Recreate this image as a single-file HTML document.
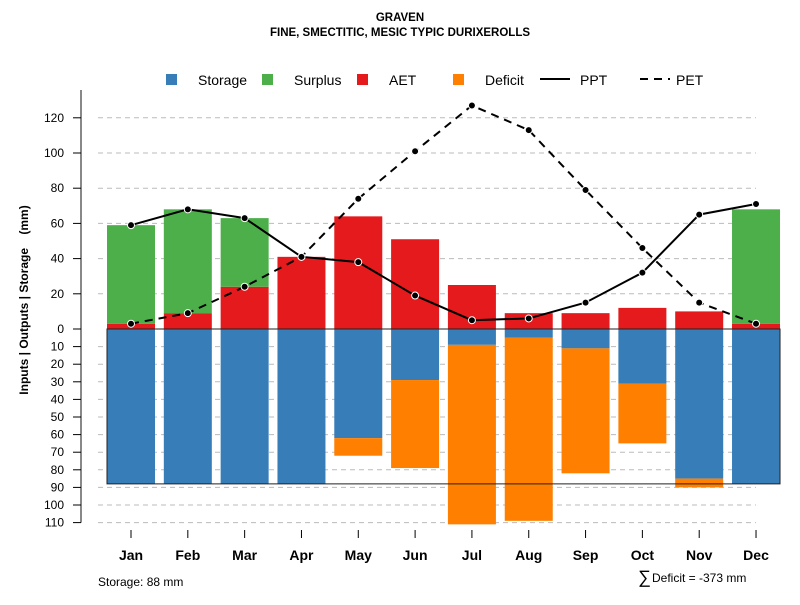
<!DOCTYPE html>
<html><head><meta charset="utf-8"><style>
body{margin:0;background:#fff;font-family:"Liberation Sans",sans-serif}
svg text{font-family:"Liberation Sans",sans-serif}
</style></head><body>
<svg id="c" width="800" height="600" xmlns="http://www.w3.org/2000/svg"></svg>
<script>
const months=["Jan","Feb","Mar","Apr","May","Jun","Jul","Aug","Sep","Oct","Nov","Dec"];
const aet=[3,9,24,41,64,51,25,9,9,12,10,3];
const surplus=[56,59,39,0,0,0,0,0,0,0,0,65];
const ppt=[59,68,63,41,38,19,5,6,15,32,65,71];
const pet=[3,9,24,41,74,101,127,113,79,46,15,3];
const storage=[88,88,88,88,62,29,9,5,11,31,85,88];
const deficit=[0,0,0,0,10,50,102,104,71,34,5,0];
const posTicks=[0,20,40,60,80,100,120];
const negTicks=[10,20,30,40,50,60,70,80,90,100,110];
const storageMax=88;
const svg=document.getElementById('c');const NS='http://www.w3.org/2000/svg';
function el(t,a,p){const e=document.createElementNS(NS,t);for(const k in a)e.setAttribute(k,a[k]);(p||svg).appendChild(e);return e;}
const y0=329,k=1.76;
const yP=v=>y0-v*k, yN=v=>y0+v*k;
const xC=i=>131+i*56.82, bw=48;
let t=el('text',{x:400,y:21,'text-anchor':'middle','font-size':11.5,'font-weight':'bold'});t.textContent='GRAVEN';

t=el('text',{x:400,y:36,'text-anchor':'middle','font-size':11.5,'font-weight':'bold'});t.textContent='FINE, SMECTITIC, MESIC TYPIC DURIXEROLLS';

const grid=el('g',{});
posTicks.forEach(v=>{if(v>0)el('line',{x1:98,x2:756,y1:yP(v),y2:yP(v),stroke:'#bbb','stroke-dasharray':'5,4'},grid);});
negTicks.forEach(v=>el('line',{x1:98,x2:756,y1:yN(v),y2:yN(v),stroke:'#bbb','stroke-dasharray':'5,4'},grid));
const bars=el('g',{});
months.forEach((m,i)=>{
 const x=xC(i)-bw/2;
 let r=el('rect',{x:x,y:yP(aet[i]),width:bw,height:aet[i]*k,fill:'#E41A1C'},bars);
 
 if(surplus[i]>0){r=el('rect',{x:x,y:yP(aet[i]+surplus[i]),width:bw,height:surplus[i]*k,fill:'#4DAF4A'},bars);
 }
 r=el('rect',{x:x,y:y0,width:bw,height:storage[i]*k,fill:'#377EB8'},bars);
 
 if(deficit[i]>0){r=el('rect',{x:x,y:yN(storage[i]),width:bw,height:deficit[i]*k,fill:'#FF7F00'},bars);
 }
 const tk=el('line',{x1:xC(i),x2:xC(i),y1:530,y2:538,stroke:'#000'});
 
 const lb=el('text',{x:xC(i),y:560,'text-anchor':'middle','font-size':14,'font-weight':'bold'});lb.textContent=m;
 
});
const box=el('rect',{x:xC(0)-bw/2,y:y0,width:xC(11)+bw/2-(xC(0)-bw/2),height:storageMax*k,fill:'none',stroke:'#222','stroke-width':1});

function line(arr,dash,name){
 const d=arr.map((v,i)=>(i?'L':'M')+xC(i)+','+yP(v)).join('');
 const p=el('path',{d:d,fill:'none',stroke:'#000','stroke-width':2,'stroke-dasharray':dash});
 
 arr.forEach((v,i)=>{const c=el('circle',{cx:xC(i),cy:yP(v),r:3.5,fill:'#000',stroke:'#fff','stroke-width':1});
 });
}
line(pet,'8,6','pet');line(ppt,'none','ppt');
const ax=el('g',{});
el('line',{x1:81,x2:81,y1:90,y2:yN(110),stroke:'#888','stroke-width':2},ax);
posTicks.forEach(v=>{el('line',{x1:73,x2:81,y1:yP(v),y2:yP(v),stroke:'#000'},ax);
 const l=el('text',{x:64,y:yP(v)+4,'text-anchor':'end','font-size':12},ax);l.textContent=v;});
negTicks.forEach(v=>{el('line',{x1:73,x2:81,y1:yN(v),y2:yN(v),stroke:'#000'},ax);
 const l=el('text',{x:64,y:yN(v)+4,'text-anchor':'end','font-size':12},ax);l.textContent=v;});
t=el('text',{x:0,y:0,transform:'translate(28,300) rotate(-90)','text-anchor':'middle','font-size':12,'font-weight':'bold',style:'white-space:pre'});
t.textContent='Inputs | Outputs | Storage    (mm)';
const lg=el('g',{});
[['Storage','#377EB8',166,198],['Surplus','#4DAF4A',262,294],['AET','#E41A1C',357,389],['Deficit','#FF7F00',453,485]].forEach(e=>{
 el('rect',{x:e[2],y:74,width:11,height:11,fill:e[1]},lg);
 const l=el('text',{x:e[3],y:85,'font-size':14},lg);l.textContent=e[0];});
el('line',{x1:540,x2:570,y1:79,y2:79,stroke:'#000','stroke-width':2},lg);
let l=el('text',{x:580,y:85,'font-size':14},lg);l.textContent='PPT';
el('line',{x1:640,x2:670,y1:79,y2:79,stroke:'#000','stroke-width':2,'stroke-dasharray':'8,6'},lg);
l=el('text',{x:676,y:85,'font-size':14},lg);l.textContent='PET';
t=el('text',{x:98,y:586,'font-size':12});t.textContent='Storage: 88 mm';

t=el('text',{x:638,y:583,'font-size':18});t.textContent='∑';

t=el('text',{x:652,y:582,'font-size':12});t.textContent='Deficit = -373 mm';

</script>
</body></html>
